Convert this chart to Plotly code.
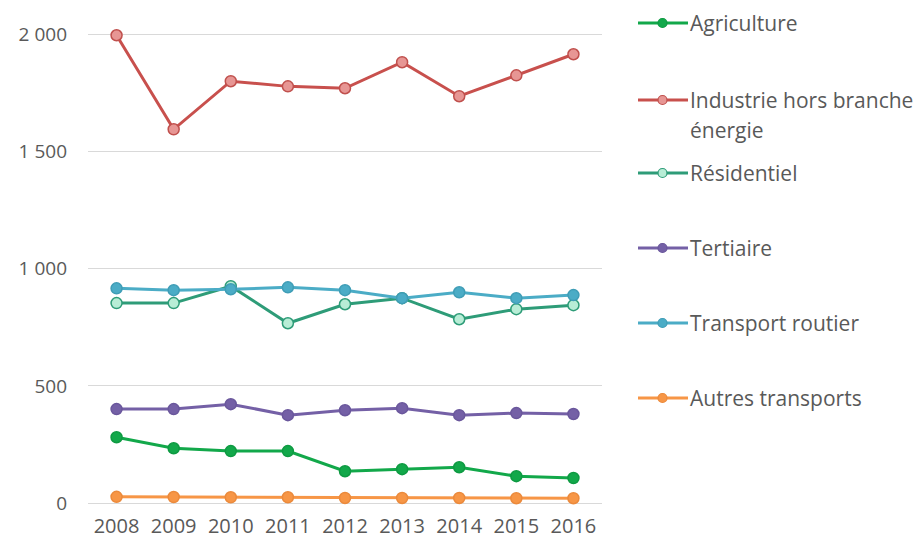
import plotly.graph_objects as go

# years on the x axis
years = ["2008", "2009", "2010", "2011", "2012", "2013", "2014", "2015", "2016"]

# values
agriculture = [281, 234, 222, 222, 136, 145, 153, 115, 107]
industrie = [1995, 1594, 1799, 1777, 1769, 1880, 1735, 1824, 1914]
residentiel = [853, 853, 925, 767, 848, 874, 784, 827, 844]
tertiaire = [401, 401, 422, 375, 396, 405, 375, 384, 380]
transport_routier = [916, 908, 912, 920, 908, 874, 899, 874, 887]
autres_transports = [27, 26, 25, 25, 22, 22, 22, 21, 21]

y_tickvals = [0, 500, 1000, 1500, 2000]
y_ticktext = ["0", "500", "1 000", "1 500", "2 000"]

FONT = "Open Sans"
GREY = "#595959"

# the page body adds an 8px margin, so the figure is drawn 8px smaller
PAGE_PAD = 8
W, H = 922 - PAGE_PAD, 541 - PAGE_PAD
M_L, M_R, M_T, M_B = 80, 320, 12, 32

series = [
    # legend lines, values, line colour, marker fill, marker outline
    (["Agriculture"], agriculture, "#12A84A", "#12A84A", "#0E9A42"),
    (["Industrie hors branche", "énergie"], industrie, "#C8504D", "#E79694", "#C0504D"),
    (["Résidentiel"], residentiel, "#2E9C78", "#B8EDD6", "#2E9C78"),
    (["Tertiaire"], tertiaire, "#7460A6", "#7460A6", "#6A579C"),
    (["Transport routier"], transport_routier, "#4BACC6", "#4BACC6", "#3F9DB6"),
    (["Autres transports"], autres_transports, "#F79646", "#F79646", "#EB8A3C"),
]

# legend rows: screen pixel y of each entry's first line
legend_rows = [23, 100, 173, 248, 323, 398]
LEGEND_LINE_GAP = 30


def px_to_paper(px, py):
    # screen pixels -> paper coordinates
    px -= PAGE_PAD
    py -= PAGE_PAD
    x = (px - M_L) / (W - M_L - M_R)
    y = (H - M_B - py) / (H - M_T - M_B)
    return x, y


fig = go.Figure()

for lines, vals, lc, fill, edge in series:
    fig.add_trace(go.Scatter(
        x=years, y=vals, name=" ".join(lines), mode="lines+markers",
        line=dict(color=lc, width=3),
        marker=dict(size=11, color=fill, line=dict(color=edge, width=1.5)),
        showlegend=False,
    ))

# hand-placed legend to reproduce the spacing of the original
shapes = []
annotations = []
for (lines, vals, lc, fill, edge), py in zip(series, legend_rows):
    x0, y0 = px_to_paper(638, py)
    x1, _ = px_to_paper(688, py)
    shapes.append(dict(type="line", xref="paper", yref="paper",
                       x0=x0, x1=x1, y0=y0, y1=y0,
                       line=dict(color=lc, width=3)))
    cx0, cy0 = px_to_paper(658, py - 4.5)
    cx1, cy1 = px_to_paper(667, py + 4.5)
    shapes.append(dict(type="circle", xref="paper", yref="paper",
                       x0=cx0, x1=cx1, y0=cy1, y1=cy0,
                       fillcolor=fill, line=dict(color=edge, width=1.2)))
    for i, text in enumerate(lines):
        tx, ty = px_to_paper(688, py + i * LEGEND_LINE_GAP)
        annotations.append(dict(xref="paper", yref="paper", x=tx, y=ty,
                                text=text, showarrow=False, xanchor="left",
                                yanchor="middle", align="left",
                                font=dict(family=FONT, size=21, color=GREY)))

fig.update_layout(
    width=W, height=H,
    margin=dict(l=M_L, r=M_R, t=M_T, b=M_B),
    plot_bgcolor="white", paper_bgcolor="white",
    font=dict(family=FONT, size=19, color=GREY),
    shapes=shapes,
    annotations=annotations,
    showlegend=False,
)
fig.update_xaxes(
    type="category", range=[-0.5, 8.5], automargin=False,
    showgrid=False, zeroline=False, showline=False,
    ticks="", tickfont=dict(family=FONT, size=20, color=GREY),
    ticklabelstandoff=3,
)
fig.update_yaxes(
    range=[-25, 2060], tickvals=y_tickvals, ticktext=y_ticktext, automargin=False,
    showgrid=True, gridcolor="#D9D9D9", gridwidth=1,
    zeroline=True, zerolinecolor="#D9D9D9", zerolinewidth=1,
    showline=False, ticks="", tickfont=dict(family=FONT, size=19, color=GREY),
    ticklabelstandoff=20,
)

fig.write_html("out.html")
